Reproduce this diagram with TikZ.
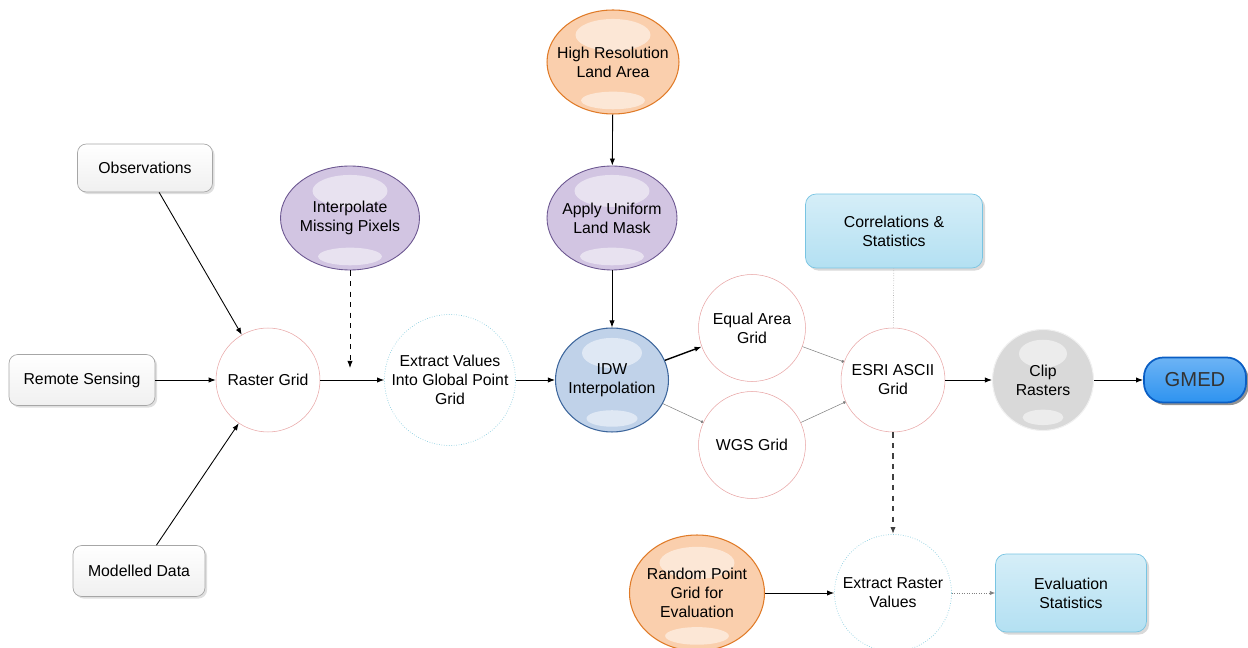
\documentclass[tikz,border=0pt]{standalone}
\usepackage{fontspec}
\setmainfont{Liberation Sans}
\usetikzlibrary{calc,shapes.geometric,shadows,arrows.meta}

\definecolor{purpfill}{HTML}{D2C5E2}
\definecolor{purpline}{HTML}{6B5690}
\definecolor{orngfill}{HTML}{FACFAD}
\definecolor{orngline}{HTML}{E07B28}
\definecolor{idwfill}{HTML}{C0D2E9}
\definecolor{idwline}{HTML}{3D669C}
\definecolor{skyfill}{HTML}{B3E0F2}
\definecolor{skyline}{HTML}{78C4E2}
\definecolor{gmedfill}{HTML}{2E93F0}
\definecolor{gmedline}{HTML}{0A5EC4}
\definecolor{ringline}{HTML}{E8A4A4}
\definecolor{dotline}{HTML}{8CCFE0}

\tikzset{
  every node/.style={font=\fontsize{9}{10.8}\selectfont, align=center, inner sep=0pt},
  srcbox/.style={rectangle, rounded corners=5pt, draw=gray!70, top color=white,
    bottom color=gray!12, drop shadow={opacity=.25, shadow xshift=1.2pt, shadow yshift=-1.2pt}},
  statbox/.style={rectangle, rounded corners=6pt, draw=skyline, top color=skyfill!55,
    bottom color=skyfill, drop shadow={opacity=.3, shadow xshift=1.5pt, shadow yshift=-1.5pt}},
  ring/.style={circle, draw=ringline, line width=.3pt, fill=white},
  dotring/.style={circle, draw=dotline, densely dotted, line width=.4pt, fill=white},
  glare/.style 2 args={path picture={
    \fill[white, opacity=.5] ($(path picture bounding box.north)!.24!(path picture bounding box.south)$)
      ellipse (#1 and #2);
    \fill[white, opacity=.5] ($(path picture bounding box.north)!.87!(path picture bounding box.south)$)
      ellipse (0.85*#1 and 0.55*#2);}},
  ball/.style={ellipse, inner xsep=-0.5cm, inner ysep=-0.4cm},
  purpball/.style={ball, draw=purpline, line width=.5pt, fill=purpfill, glare={0.75cm}{0.32cm}},
  orngball/.style={ball, draw=orngline, line width=.6pt, fill=orngfill, glare={0.75cm}{0.32cm}},
  flow/.style={-{Latex[length=4pt,width=3pt]}, line width=.5pt},
  thinflow/.style={-{Circle[length=1.6pt]}, draw=gray, line width=.3pt},
}

\begin{document}
\begin{tikzpicture}[x=0.02cm, y=-0.02cm]
  \useasboundingbox (0,0) rectangle (1248,648);

  % inputs
  \node[srcbox, minimum width=2.7cm, minimum height=0.96cm] (obs) at (145,168) {Observations};
  \node[srcbox, minimum width=2.92cm, minimum height=1.02cm] (rs) at (82,380) {Remote Sensing};
  \node[srcbox, minimum width=2.64cm, minimum height=1.02cm] (mod) at (139,571) {Modelled Data};

  \node[ring, minimum size=2.08cm] (raster) at (268,380) {Raster Grid};
  \node[purpball, minimum width=2.78cm, minimum height=2.08cm] (interp) at (350,218)
    {Interpolate\\Missing Pixels};
  \node[dotring, minimum size=2.62cm] (extract) at (450,380) {Extract Values\\Into Global Point\\Grid};

  % land mask column
  \node[orngball, minimum width=2.64cm, minimum height=2.08cm] (land) at (613,62)
    {High Resolution\\Land Area};
  \node[purpball, minimum width=2.6cm, minimum height=2.08cm] (mask) at (612,218)
    {Apply Uniform\\Land Mask};
  \node[ball, draw=idwline, line width=.6pt, fill=idwfill,
    glare={0.6cm}{0.3cm}, minimum width=2.26cm, minimum height=2.08cm] (idw) at (612,380)
    {IDW\\Interpolation};

  \node[ring, minimum size=2.14cm] (equal) at (752,328) {Equal Area\\Grid};
  \node[ring, minimum size=2.14cm] (wgs) at (752,445) {WGS Grid};
  \node[ring, minimum size=2.08cm] (esri) at (893,380) {ESRI ASCII\\Grid};
  \node[statbox, minimum width=3.54cm, minimum height=1.48cm] (corr) at (894,231)
    {Correlations \&\\Statistics};

  \node[circle, draw=gray!12, line width=.6pt, fill=gray!30,
    glare={0.48cm}{0.28cm}, minimum size=2.02cm] (clip) at (1043,380) {Clip\\Rasters};
  \node[rectangle, rounded corners=11pt, draw=gmedline, line width=1pt, top color=gmedfill!70,
    bottom color=gmedfill, minimum width=2.04cm, minimum height=0.9cm,
    drop shadow={opacity=.85, shadow xshift=1.5pt, shadow yshift=-1.5pt},
    font=\fontsize{11.5}{13}\selectfont, text=black!80] (gmed) at (1195,380) {GMED};

  % evaluation row
  \node[orngball, minimum width=2.7cm, minimum height=2.32cm] (rand) at (697,593)
    {Random Point\\Grid for\\Evaluation};
  \node[dotring, minimum size=2.34cm] (exval) at (893,593) {Extract Raster\\Values};
  \node[statbox, minimum width=3.02cm, minimum height=1.56cm] (evstat) at (1071,593)
    {Evaluation\\Statistics};

  \coordinate (gap) at (350,368);

  \draw[flow] (obs) -- (raster);
  \draw[flow] (rs) -- (raster);
  \draw[flow] (mod) -- (raster);
  \draw[flow, dashed] (interp) -- (gap);
  \draw[flow] (raster) -- (extract);
  \draw[flow] (extract) -- (idw);
  \draw[flow] (land) -- (mask);
  \draw[flow] (mask) -- (idw);
  \draw[flow, line width=.8pt] (idw) -- (equal);
  \draw[thinflow] (idw) -- (wgs);
  \draw[thinflow] (equal) -- (esri);
  \draw[thinflow] (wgs) -- (esri);
  \draw[gray!60, densely dotted, line width=.4pt] (esri) -- (corr);
  \draw[flow] (esri) -- (clip);
  \draw[flow] (clip) -- (gmed);
  \draw[flow, dashed, draw=black!75, line width=.9pt] (esri) -- (exval);
  \draw[flow] (rand) -- (exval);
  \draw[-{Latex[length=3pt,width=2.4pt]}, gray, densely dotted, line width=.4pt] (exval) -- (evstat);
\end{tikzpicture}
\end{document}
